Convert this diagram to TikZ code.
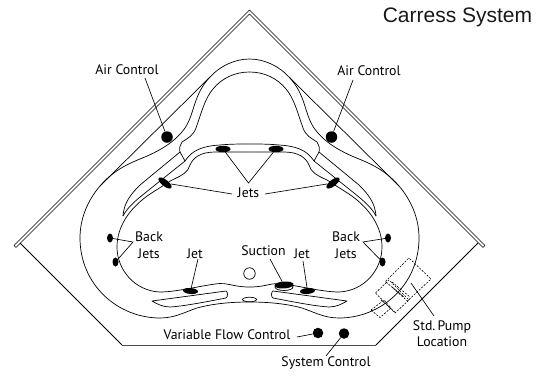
\documentclass[tikz,border=0pt]{standalone}
\usepackage{fontspec}
\setmainfont{PT Sans}
\newfontfamily\titlefont{Liberation Sans}
\usetikzlibrary{shapes.geometric}
\tikzset{
  tubline/.style={line width=0.7pt,black,line join=round},
  lead/.style={line width=0.65pt,black},
  lbl/.style={inner sep=0pt,font=\fontsize{13.8}{15.5}\selectfont,text=black},
  jetdot/.style={ellipse,fill=black,draw=none,inner sep=0pt},
  pumpline/.style={line width=0.6pt,dash pattern=on 2pt off 1.4pt},
  mirrored/.style={cm={-1,0,0,1,(499pt,0pt)}},
}
\newcommand{\halftub}{%
  % outer loop
  \draw[tubline] (249.5,302) .. controls (235,302) and (215,303) .. (197,308)
    .. controls (185,312) and (175,318) .. (160,318)
    .. controls (118,318) and (80,285) .. (80,238)
    .. controls (80,218) and (88,200) .. (100,186)
    .. controls (112,172) and (125,165) .. (140,159)
    .. controls (160,151) and (175,142) .. (185,128)
    .. controls (195,113) and (193,95) .. (210,77)
    .. controls (220,66) and (235,59) .. (249.5,59);
  % straight diagonal
  \draw[tubline] (210,77) -- (100,186);
  % inner bench line
  \draw[tubline] (180,152) .. controls (179,148) and (180,145) .. (182,142)
    .. controls (188,138) and (193,136) .. (196,128)
    .. controls (201,114) and (205,98) .. (213,89)
    .. controls (222,78) and (235,72) .. (249.5,72);
  % sliver
  \draw[tubline] (180,152) -- (140,185) .. controls (130,195) and (124,203) .. (123,216);
  \draw[tubline] (180,152) -- (185,161) -- (145,193) .. controls (135,201) and (127,208) .. (123,216);
  % shelf
  \draw[tubline] (185,161) .. controls (192,150) and (203,146) .. (220,145)
    .. controls (230,144) and (240,144) .. (249.5,144);
  % foot well
  \draw[tubline] (249.5,152) -- (215,152) .. controls (200,152) and (193,158) .. (190,165)
    .. controls (188,172) and (183,175) .. (172,180) -- (150,194)
    .. controls (128,209) and (117,228) .. (117,247)
    .. controls (117,270) and (135,291) .. (160,292)
    .. controls (175,292) and (195,287) .. (215,284)
    .. controls (228,282) and (232,287) .. (249.5,287);
  % seat
  \draw[tubline] (152,301) -- (226,291) .. controls (228,292) and (228,297) .. (226,298)
    .. controls (205,302) and (185,306) .. (170,307)
    .. controls (163,307) and (157,304) .. (152,301) -- cycle;
}
\begin{document}
\begin{tikzpicture}[x=1pt,y=-1pt]
\useasboundingbox (0,0) rectangle (548,375);
% deck
\draw[tubline,line width=0.65pt] (14,245.5) -- (249.5,10) -- (485,245.5) -- (483,247.5) -- (249.5,14) -- (16,247.5) -- cycle;
\draw[tubline,line width=0.75pt] (20,243) -- (122,345);
\draw[tubline,line width=1pt,black!70] (122,345) -- (376,345);
\draw[tubline,line width=0.75pt] (376,345) -- (478,243);
\halftub
\begin{scope}[mirrored]\halftub\end{scope}
\node[ellipse,draw,tubline,inner sep=0pt,minimum width=14pt,minimum height=4.5pt] (drain) at (249.5,299.5) {};
\node[circle,draw,tubline,inner sep=0pt,minimum size=11.5pt] (hole) at (249.5,273.5) {};
\node[ellipse,draw,tubline,fill=white,inner sep=0pt,minimum width=18pt,minimum height=7pt] (suctionring) at (284,287) {};
% fixtures
\node[jetdot,minimum size=11.5pt] (airL) at (167,137) {};
\node[jetdot,minimum size=11.5pt] (airR) at (331.5,137) {};
\node[jetdot,minimum width=15pt,minimum height=6.5pt] (jetTL) at (223,149) {};
\node[jetdot,minimum width=15pt,minimum height=6.5pt] (jetTR) at (276,149) {};
\node[jetdot,minimum width=16pt,minimum height=6.5pt,rotate=-38] (jetSL) at (165,183) {};
\node[jetdot,minimum width=16pt,minimum height=6.5pt,rotate=38] (jetSR) at (333,183) {};
\node[jetdot,minimum width=6pt,minimum height=9pt] (backL1) at (110,238) {};
\node[jetdot,minimum width=6pt,minimum height=9pt] (backL2) at (115.5,262) {};
\node[jetdot,minimum width=6pt,minimum height=9pt] (backR1) at (388,238) {};
\node[jetdot,minimum width=6pt,minimum height=9pt] (backR2) at (382.5,262) {};
\node[jetdot,minimum width=15pt,minimum height=6pt,rotate=-5] (jetBL) at (190.5,291) {};
\node[jetdot,minimum width=15pt,minimum height=6pt,rotate=5] (jetBR) at (307.5,291) {};
\node[jetdot,minimum width=19pt,minimum height=7pt,rotate=4] (suction) at (284,285) {};
\node[jetdot,minimum size=10.5pt] (varflow) at (318,333) {};
\node[jetdot,minimum size=10.5pt] (syscontrol) at (344,333.5) {};
% pump outline
\draw[pumpline] (385.5,281.5) -- (409,258) -- (431,279) -- (407.5,301) -- cycle;
\draw[pumpline] (375.5,293) -- (389,280) -- (409,300) -- (395,313) -- cycle;
\draw[pumpline] (371,310) -- (384,300) -- (391,308) -- (380,317.5) -- cycle;
\draw[pumpline] (392,282) -- (410,297);
\draw[line width=0.7pt,dash pattern=on 3pt off 1pt] (392,287) -- (404,297);
\draw[pumpline] (381,300) -- (396,313);
% labels
\node[inner sep=0pt,font=\fontsize{21}{24}\selectfont\titlefont,text=black!90] (title) at (457.5,17.5) {Carress System};
\node[lbl] (lblAirL) at (127,70) {Air Control};
\node[lbl] (lblAirR) at (369,71) {Air Control};
\node[lbl] (lblJets) at (248.5,193) {Jets};
\node[lbl,align=center] (lblBackL) at (149,245.5) {Back\\[1.5pt]Jets};
\node[lbl,align=center] (lblBackR) at (346,245.5) {Back\\[1.5pt]Jets};
\node[lbl] (lblJetL) at (195,254) {Jet};
\node[lbl] (lblJetR) at (302,254) {Jet};
\node[lbl] (lblSuction) at (263.5,250.5) {Suction};
\node[lbl] (lblVar) at (227,335) {Variable Flow Control};
\node[lbl] (lblSys) at (326,363) {System Control};
\node[lbl,align=center] (lblPump) at (442,333.5) {Std.\,Pump\\Location};
% connector ends
\coordinate (aAirL) at (145,78);
\coordinate (aAirR) at (353,80);
\coordinate (vJets) at (248.5,183);
\coordinate (aJetsL) at (232,194);
\coordinate (aJetsR) at (265,194);
\coordinate (vBackL) at (133,242);
\coordinate (vBackR) at (363,242);
\coordinate (aJetL) at (198,259);
\coordinate (aJetR) at (303,261);
\coordinate (aSuction) at (270,259);
\coordinate (aVar) at (297,337);
\coordinate (aSys) at (326,356);
\coordinate (aPump) at (434,316);
\coordinate (ePump) at (411,283);
\draw[lead] (aAirL) -- (airL);
\draw[lead] (aAirR) -- (airR);
\draw[lead] (jetTL) -- (vJets) -- (jetTR);
\draw[lead] (aJetsL) -- (jetSL);
\draw[lead] (aJetsR) -- (jetSR);
\draw[lead] (backL1) -- (vBackL) -- (backL2);
\draw[lead] (backR1) -- (vBackR) -- (backR2);
\draw[lead] (aJetL) -- (jetBL);
\draw[lead] (aJetR) -- (jetBR);
\draw[lead] (aSuction) -- (suction);
\draw[lead] (aVar) -- (varflow);
\draw[lead] (aSys) -- (syscontrol);
\draw[lead] (aPump) -- (ePump);
\end{tikzpicture}
\end{document}
